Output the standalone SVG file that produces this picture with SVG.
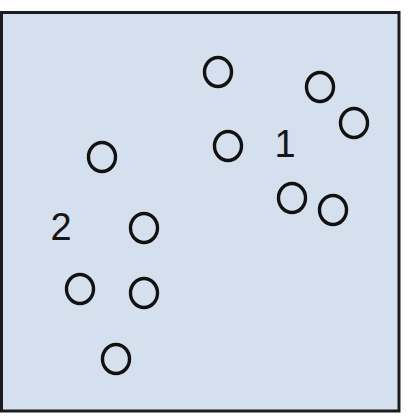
<svg xmlns="http://www.w3.org/2000/svg" width="411" height="419" viewBox="0 0 411 419">
<style>
.n ellipse{fill:none;stroke:#111;stroke-width:3.4}
.lbl{font-family:"Liberation Sans",Arial,sans-serif;font-size:38px;fill:#151515;text-anchor:middle}
</style>
<rect x="0" y="0" width="411" height="419" fill="#ffffff"/>
<rect id="frame" x="1.5" y="12.5" width="397.5" height="398.5" fill="#d4e0ee" stroke="#1c1c1c" stroke-width="3"/>
<g id="connectors"></g>
<g id="n1" class="n"><ellipse cx="218" cy="72" rx="13.5" ry="14.5"/></g>
<g id="n2" class="n"><ellipse cx="320" cy="87" rx="13.5" ry="14.5"/></g>
<g id="n3" class="n"><ellipse cx="354" cy="123" rx="13.5" ry="14.5"/></g>
<g id="n4" class="n"><ellipse cx="102" cy="157" rx="13.5" ry="14.5"/></g>
<g id="n5" class="n"><ellipse cx="228" cy="146" rx="13.5" ry="14.5"/></g>
<g id="n6" class="n"><ellipse cx="292" cy="198" rx="13.5" ry="14.5"/></g>
<g id="n7" class="n"><ellipse cx="333" cy="210" rx="13.5" ry="14.5"/></g>
<g id="n8" class="n"><ellipse cx="144" cy="228" rx="13.5" ry="14.5"/></g>
<g id="n9" class="n"><ellipse cx="80" cy="289" rx="13.5" ry="14.5"/></g>
<g id="n10" class="n"><ellipse cx="144" cy="293" rx="13.5" ry="14.5"/></g>
<g id="n11" class="n"><ellipse cx="116" cy="359" rx="13.5" ry="14.5"/></g>
<g id="label1"><text class="lbl" x="285" y="157">1</text></g>
<g id="label2"><text class="lbl" x="61" y="240">2</text></g>
</svg>
